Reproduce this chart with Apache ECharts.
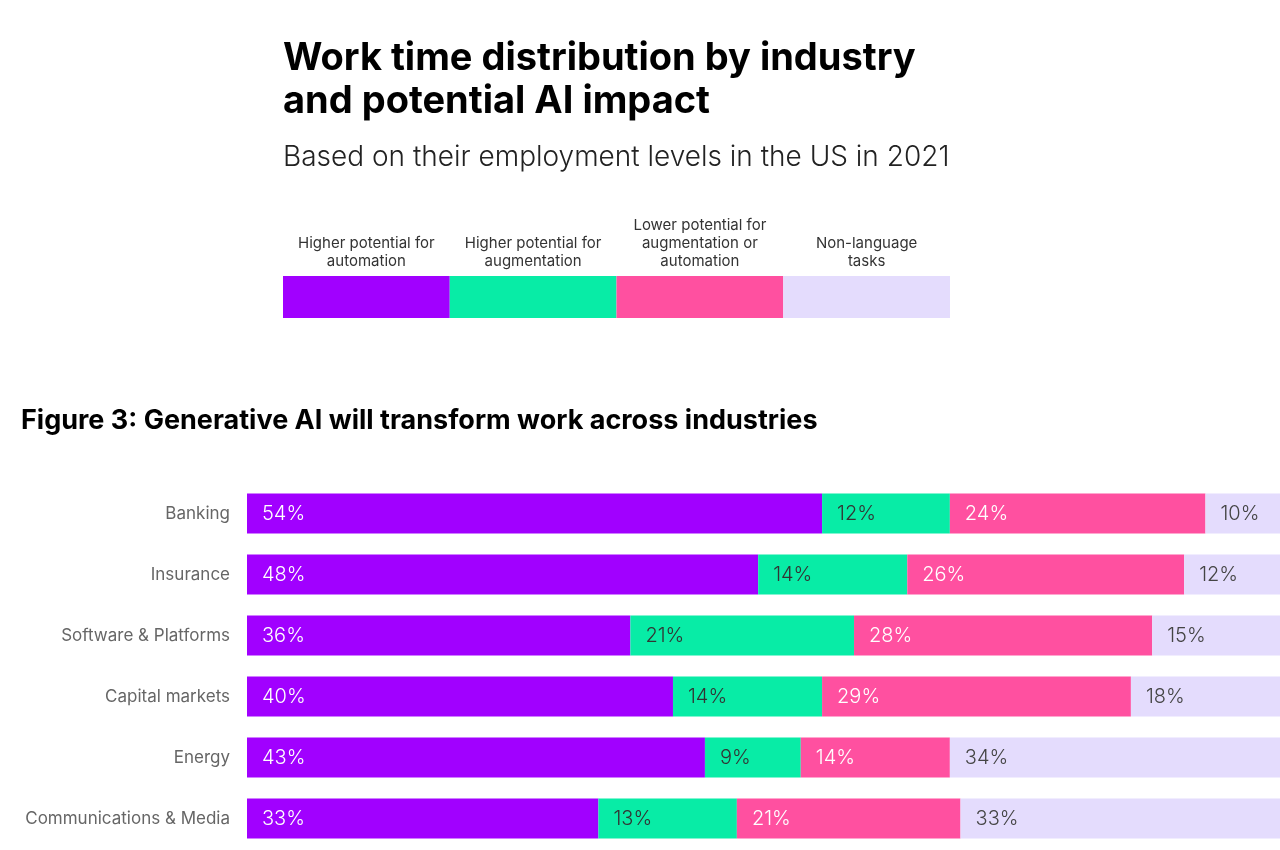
<!DOCTYPE html>
<html>
<head>
<meta charset="utf-8">
<script src="https://cdn.jsdelivr.net/npm/echarts@6/dist/echarts.min.js"></script>
<style>
  html, body { margin: 0; padding: 0; background: #ffffff; }
  #chart { width: 1280px; height: 850px; }
</style>
</head>
<body>
<div id="chart"></div>
<script>
const industries = ['Banking', 'Insurance', 'Software & Platforms', 'Capital markets', 'Energy', 'Communications & Media'];
const seriesNames = ['Higher potential for\nautomation', 'Higher potential for\naugmentation', 'Lower potential for\naugmentation or\nautomation', 'Non-language\ntasks'];
const automation   = [54, 48, 36, 40, 43, 33];
const augmentation = [12, 14, 21, 14, 9, 13];
const lowerPotential = [24, 26, 28, 29, 14, 21];
const nonLanguage  = [10, 12, 15, 18, 34, 33];
const colors = ['#a100ff', '#08eca6', '#ff50a0', '#e4dcfd'];
const labelColors = ['#ffffff', '#333333', '#ffffff', '#444444'];
const seriesValues = [automation, augmentation, lowerPotential, nonLanguage];

const FONT = 'Inter, "Noto Sans", sans-serif';
const chart = echarts.init(document.getElementById('chart'));

const legendGraphics = [];
const legLeft = 283, legW = 166.75, legTop = 276, legH = 42;
seriesNames.forEach((name, i) => {
  legendGraphics.push({
    type: 'rect',
    shape: { x: legLeft + i * legW, y: legTop, width: legW, height: legH },
    style: { fill: colors[i] },
    silent: true
  });
  legendGraphics.push({
    type: 'text',
    style: {
      text: name,
      x: legLeft + i * legW + legW / 2,
      y: 270,
      align: 'center',
      verticalAlign: 'bottom',
      fontFamily: FONT,
      fontSize: 15,
      lineHeight: 18,
      fill: '#333333'
    },
    silent: true
  });
});

const option = {
  backgroundColor: '#ffffff',
  animation: false,
  title: [
    {
      text: 'Work time distribution by industry\nand potential AI impact',
      left: 278, top: 32,
      textStyle: { fontFamily: FONT, fontSize: 38, fontWeight: 'bold', color: '#000000', lineHeight: 43 }
    },
    {
      text: 'Based on their employment levels in the US in 2021',
      left: 278, top: 139,
      textStyle: { fontFamily: FONT, fontSize: 28, fontWeight: 300, color: '#222222' }
    },
    {
      text: 'Figure 3: Generative AI will transform work across industries',
      left: 16, top: 402,
      textStyle: { fontFamily: FONT, fontSize: 27, fontWeight: 'bold', color: '#000000' }
    }
  ],
  graphic: legendGraphics,
  grid: { left: 247, right: 0, top: 483, bottom: 1, containLabel: false },
  xAxis: { type: 'value', min: 0, max: 97, show: false },
  yAxis: {
    type: 'category',
    data: industries,
    inverse: true,
    axisLine: { show: false },
    axisTick: { show: false },
    axisLabel: { fontFamily: FONT, fontSize: 17, color: '#666666', margin: 17 }
  },
  series: seriesValues.map((vals, i) => ({
    type: 'bar',
    name: seriesNames[i],
    stack: 'total',
    barWidth: 40,
    data: vals,
    itemStyle: { color: colors[i] },
    label: {
      show: true,
      position: 'insideLeft',
      distance: 15,
      formatter: '{c}%',
      fontFamily: FONT,
      fontSize: 20,
      fontWeight: 300,
      color: labelColors[i]
    }
  }))
};
chart.setOption(option);
</script>
</body>
</html>
